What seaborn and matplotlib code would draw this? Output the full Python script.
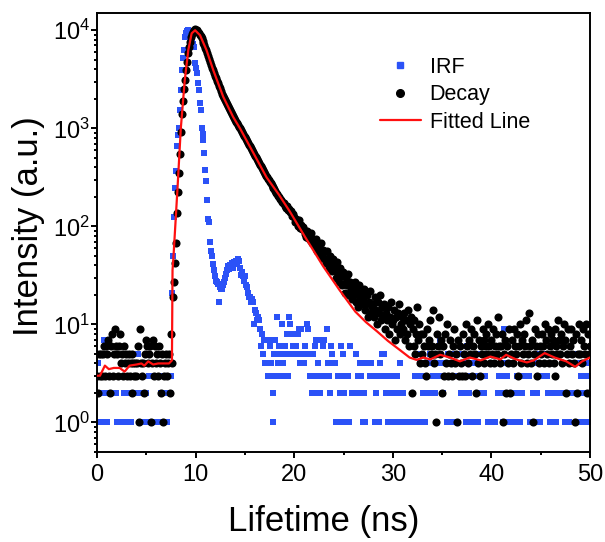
import matplotlib
matplotlib.use('Agg')

import matplotlib.pyplot as plt
from matplotlib.lines import Line2D
from matplotlib.ticker import LogLocator, MultipleLocator, NullFormatter
import numpy as np
import pandas as pd
import seaborn as sns

sns.set_theme(style="ticks")
plt.rcParams['font.family'] = ['Liberation Sans', 'DejaVu Sans']
plt.rcParams['text.color'] = 'black'
plt.rcParams['axes.labelcolor'] = 'black'

# channel width of the TCSPC histogram (ns)
CHANNEL_NS = 0.1

# decay counts, one line per ns (10 channels each)
decay_counts = [
    3, 2, 5, 3, 5, 3, 5, 6, 3, 6,
    5, 7, 3, 2, 6, 8, 3, 5, 9, 6,
    5, 3, 6, 8, 4, 5, 3, 6, 4, 5,
    3, 4, 5, 3, 4, 5, 2, 4, 3, 4,
    3, 4, 6, 1, 9, 4, 3, 4, 2, 5,
    7, 6, 4, 5, 6, 1, 4, 7, 3, 6,
    4, 5, 3, 6, 4, 2, 5, 1, 3, 4,
    5, 3, 4, 5, 2, 8, 4, 19, 27, 42,
    68, 136, 225, 352, 546, 920, 1400, 1900, 2500, 3100,
    3900, 4800, 5800, 6700, 7600, 8500, 9200, 9700, 10000, 10200,
    10100, 10000, 9700, 9400, 9020, 8710, 8320, 7850, 7410, 7000,
    6610, 6240, 5890, 5500, 5130, 4790, 4470, 4170, 3890, 3660,
    3440, 3240, 3050, 2870, 2700, 2550, 2400, 2260, 2140, 2030,
    1930, 1840, 1750, 1670, 1600, 1520, 1460, 1390, 1330, 1280,
    1220, 1170, 1130, 1080, 1040, 1000, 957, 918, 879, 843,
    807, 774, 741, 711, 681, 653, 625, 600, 574, 550,
    527, 505, 484, 463, 445, 427, 408, 392, 375, 360,
    344, 330, 316, 305, 294, 284, 274, 265, 255, 246,
    238, 229, 221, 214, 206, 199, 192, 185, 179, 172,
    172, 162, 155, 160, 146, 151, 139, 143, 128, 134,
    126, 110, 118, 112, 101, 115, 97, 104, 93, 99,
    92, 84, 78, 90, 76, 81, 72, 85, 67, 74,
    70, 63, 74, 56, 65, 59, 52, 67, 48, 57,
    55, 47, 42, 56, 44, 38, 50, 41, 35, 46,
    40, 36, 30, 43, 33, 27, 38, 31, 25, 34,
    32, 26, 21, 30, 25, 33, 20, 27, 23, 18,
    24, 20, 27, 17, 22, 15, 25, 19, 16, 21,
    18, 23, 14, 16, 20, 12, 17, 22, 13, 15,
    16, 12, 19, 14, 10, 17, 13, 20, 11, 15,
    12, 16, 9, 13, 11, 15, 8, 12, 17, 10,
    11, 14, 7, 12, 9, 13, 16, 8, 10, 12,
    9, 13, 7, 11, 8, 14, 6, 10, 12, 2,
    9, 6, 11, 5, 8, 15, 7, 10, 4, 8,
    5, 8, 6, 4, 3, 9, 6, 7, 11, 5,
    6, 14, 4, 5, 1, 8, 6, 12, 5, 7,
    2, 6, 3, 8, 4, 10, 3, 5, 7, 4,
    3, 6, 9, 4, 5, 1, 7, 3, 6, 4,
    3, 8, 5, 3, 10, 6, 4, 7, 5, 9,
    3, 6, 8, 5, 2, 11, 4, 7, 3, 6,
    5, 9, 4, 7, 6, 8, 5, 10, 6, 4,
    7, 5, 9, 4, 6, 8, 5, 12, 6, 4,
    6, 8, 1, 5, 7, 2, 6, 4, 9, 2,
    5, 7, 4, 9, 6, 5, 8, 3, 6, 10,
    4, 7, 5, 8, 6, 11, 4, 5, 13, 6,
    4, 7, 1, 5, 9, 6, 3, 8, 4, 6,
    5, 8, 6, 4, 10, 7, 5, 9, 4, 6,
    8, 5, 7, 4, 3, 9, 6, 5, 11, 7,
    5, 8, 4, 6, 10, 7, 2, 5, 9, 4,
    6, 9, 5, 7, 4, 1, 8, 2, 5, 10,
    5, 7, 4, 9, 6, 5, 10, 2, 8, 5,
    6,
]

# instrument response counts (0 = empty channel, not shown on log axis)
irf_counts = [
    1, 4, 2, 3, 1, 2, 0, 7, 1, 2,
    1, 0, 2, 0, 0, 2, 0, 2, 0, 2,
    1, 0, 0, 0, 1, 0, 0, 2, 1, 0,
    2, 1, 0, 2, 1, 0, 0, 2, 0, 0,
    2, 0, 5, 2, 1, 4, 2, 0, 1, 0,
    2, 1, 0, 3, 0, 1, 3, 0, 0, 1,
    3, 0, 1, 3, 0, 2, 1, 3, 2, 1,
    3, 1, 2, 3, 2, 3, 21, 50, 126, 244,
    370, 660, 850, 1000, 1550, 2450, 3900, 5200, 6300, 8500,
    9300, 9800, 10000, 9900, 9700, 9000, 8200, 7300, 6800, 4600,
    4100, 3650, 2900, 2450, 1800, 1550, 1000, 880, 760, 555,
    380, 290, 187, 120, 112, 69, 56, 50, 41, 36,
    31, 28, 27, 26, 17, 24, 23, 23, 25, 27,
    30, 33, 36, 39, 37, 40, 39, 42, 38, 43,
    41, 44, 42, 46, 44, 38, 32, 34, 31, 28,
    31, 25, 24, 21, 19, 19, 17, 18, 17, 10,
    14, 13, 11, 12, 11, 9, 6, 8, 5, 7,
    4, 7, 4, 3, 7, 6, 4, 3, 2, 1,
    5, 7, 3, 12, 4, 6, 5, 3, 10, 4,
    3, 6, 5, 8, 3, 12, 10, 5, 8, 6,
    5, 0, 6, 5, 8, 9, 4, 9, 4, 5,
    4, 6, 5, 10, 9, 5, 3, 5, 2, 5,
    3, 6, 7, 2, 4, 3, 2, 7, 3, 6,
    7, 3, 0, 9, 4, 3, 2, 6, 5, 4,
    0, 4, 1, 0, 3, 1, 2, 6, 3, 5,
    1, 2, 3, 1, 0, 3, 1, 6, 0, 2,
    0, 0, 2, 5, 0, 3, 2, 4, 3, 2,
    1, 2, 1, 4, 0, 0, 4, 3, 4, 0,
    3, 0, 1, 2, 3, 0, 1, 4, 3, 5,
    0, 5, 3, 2, 0, 1, 3, 2, 0, 1,
    3, 2, 0, 1, 3, 2, 0, 4, 1, 0,
    2, 0, 1, 0, 0, 1, 0, 0, 1, 0,
    0, 1, 0, 3, 1, 0, 5, 3, 4, 1,
    3, 2, 4, 1, 0, 2, 4, 0, 5, 2,
    0, 3, 4, 2, 0, 3, 4, 0, 7, 3,
    4, 2, 3, 0, 4, 1, 5, 3, 1, 4,
    5, 3, 1, 4, 0, 5, 3, 4, 0, 2,
    5, 4, 3, 2, 1, 6, 3, 2, 1, 0,
    4, 3, 1, 4, 5, 3, 1, 0, 2, 5,
    3, 0, 2, 5, 3, 0, 0, 1, 0, 0,
    1, 0, 4, 0, 1, 0, 0, 2, 3, 0,
    2, 3, 1, 9, 4, 2, 3, 1, 4, 0,
    2, 1, 0, 0, 2, 1, 3, 0, 2, 1,
    3, 2, 0, 0, 3, 0, 0, 4, 3, 1,
    4, 0, 2, 1, 4, 0, 2, 3, 5, 1,
    0, 3, 5, 0, 0, 5, 3, 2, 0, 1,
    0, 2, 0, 1, 0, 2, 1, 0, 0, 2,
    0, 0, 0, 2, 0, 1, 0, 0, 0, 1,
    4, 0, 2, 5, 4, 0, 2, 5, 4, 0,
    1, 3, 5, 2, 4, 1, 3, 2, 4, 1,
    3,
]

# fitted curve
fit_t = [0.0, 0.3, 0.8, 1.2, 1.7, 2.3, 2.8, 3.3, 4.0, 4.5, 4.8, 5.2, 5.7,
         6.2, 6.8, 7.3, 7.6, 7.66, 7.74, 8.17, 8.5, 8.9, 9.26, 9.6, 9.95,
         10.45, 11.1, 11.8, 12.8, 13.8, 14.5, 15.8, 17.2, 18.4, 19.57, 21.1,
         22.95, 24.6, 26.2, 27.3, 28.4, 29.5, 30.7, 31.7, 32.4, 33.1, 33.8,
         34.8, 35.8, 36.8, 37.8, 38.9, 39.9, 40.9, 41.5, 42.5, 43.6, 44.3,
         45.4, 46.4, 47.6, 48.5, 49.2, 50.0]
fit_counts = [3.0, 3.0, 3.8, 3.5, 3.6, 3.6, 3.3, 3.8, 3.9, 4.0, 3.8, 4.2, 3.9,
              4.0, 4.0, 4.0, 4.3, 36, 46, 250, 1000, 3100, 6300, 9300, 10000,
              8900, 6300, 3900, 2100, 1310, 1000, 575, 316, 214, 141, 78,
              39, 22.4, 13.5, 10.5, 8.5, 6.8, 5.5, 4.6, 4.35, 4.6, 4.4,
              4.9, 4.6, 4.2, 4.6, 4.3, 4.7, 4.4, 4.9, 4.4, 4.1, 4.3,
              5.1, 4.6, 4.2, 3.7, 4.2, 4.6]

BLUE = '#2b52f7'
RED = '#ff1010'

irf_df = pd.DataFrame({'t': np.arange(len(irf_counts)) * CHANNEL_NS, 'counts': irf_counts})
irf_df = irf_df[irf_df['counts'] > 0]
decay_df = pd.DataFrame({'t': np.arange(len(decay_counts)) * CHANNEL_NS, 'counts': decay_counts})
decay_df = decay_df[decay_df['counts'] > 0]
fit_df = pd.DataFrame({'t': fit_t, 'counts': fit_counts})

fig = plt.figure(figsize=(6.05, 5.42), dpi=100)
ax = fig.add_axes([97 / 605, 90 / 542, 493 / 605, 439 / 542])

sns.scatterplot(data=irf_df, x='t', y='counts', marker='s', s=14, color=BLUE,
                linewidth=0, ax=ax, zorder=2)
sns.scatterplot(data=decay_df, x='t', y='counts', marker='o', s=34, color='black',
                linewidth=0, ax=ax, zorder=3)
sns.lineplot(data=fit_df, x='t', y='counts', color=RED, lw=1.6, estimator=None,
             sort=False, ax=ax, zorder=4)

ax.set_yscale('log')
ax.set_xlim(0, 50)
ax.set_ylim(0.5, 15000)

ax.xaxis.set_major_locator(MultipleLocator(10))
ax.xaxis.set_minor_locator(MultipleLocator(5))
ax.yaxis.set_major_locator(LogLocator(base=10, numticks=10))
ax.yaxis.set_minor_locator(LogLocator(base=10, subs=np.arange(2, 10), numticks=30))
ax.yaxis.set_minor_formatter(NullFormatter())

ax.tick_params(which='both', direction='out', width=1.4, colors='black', labelsize=17)
ax.tick_params(which='major', length=4.3)
ax.tick_params(which='minor', length=2.5)
ax.tick_params(axis='x', pad=4)
ax.tick_params(axis='y', pad=0.5)
for spine in ax.spines.values():
    spine.set_linewidth(1.4)
    spine.set_color('black')
ax.grid(False)

ax.set_xlabel('Lifetime (ns)', fontsize=25)
ax.set_ylabel('Intensity (a.u.)', fontsize=25)
ax.xaxis.set_label_coords(0.46, -0.12)
ax.yaxis.set_label_coords(-0.105, 0.514)

handles = [
    Line2D([], [], marker='s', color=BLUE, linestyle='none', markersize=4),
    Line2D([], [], marker='o', color='black', linestyle='none', markersize=5.5),
    Line2D([], [], color=RED, lw=1.6),
]
ax.legend(handles, ['IRF', 'Decay', 'Fitted Line'], loc='upper left',
          bbox_to_anchor=(380 / 605, 1 - 57 / 542), bbox_transform=fig.transFigure,
          frameon=False, fontsize=15.5, handlelength=1.9, handletextpad=0.4,
          labelspacing=0.3, borderpad=0, borderaxespad=0)

fig.savefig('out.png', dpi=100)
plt.close(fig)
